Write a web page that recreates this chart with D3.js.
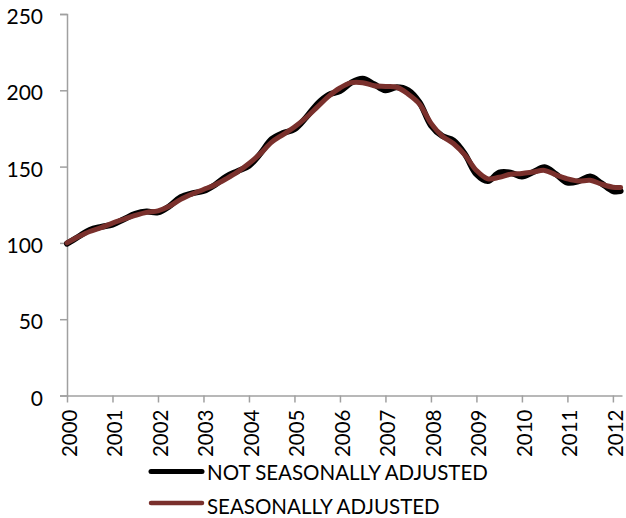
<!DOCTYPE html>
<html lang="en">
<head>
<meta charset="utf-8" />
<title>House price index</title>
<script src="https://cdnjs.cloudflare.com/ajax/libs/d3/7.8.5/d3.min.js"></script>
<style>
  body { margin: 0; background: #fff; }
  svg text { font-family: Lato, "Open Sans", sans-serif; fill: #000; }
</style>
</head>
<body>
<script>
// quarter points (decimal year), last point is March 2012
const dates = [
  2000.00, 2000.25, 2000.50, 2000.75, 2001.00, 2001.25, 2001.50, 2001.75,
  2002.00, 2002.25, 2002.50, 2002.75, 2003.00, 2003.25, 2003.50, 2003.75,
  2004.00, 2004.25, 2004.50, 2004.75, 2005.00, 2005.25, 2005.50, 2005.75,
  2006.00, 2006.25, 2006.50, 2006.75, 2007.00, 2007.25, 2007.50, 2007.75,
  2008.00, 2008.25, 2008.50, 2008.75, 2009.00, 2009.25, 2009.50, 2009.75,
  2010.00, 2010.25, 2010.50, 2010.75, 2011.00, 2011.25, 2011.50, 2011.75,
  2012.00, 2012.17
];
const notAdjusted = [
  99.5, 104, 108.5, 110.5, 112, 115.5, 119, 120.5,
  120, 124, 130, 132.5, 134, 138, 143.5, 147,
  150.5, 158.5, 168, 172, 174.5, 182, 191, 197,
  199.5, 205, 207.5, 204, 200, 202, 200, 192,
  177, 170, 167, 158, 145, 140.5, 146, 146,
  143.5, 146.5, 149.5, 145, 139.5, 140.5, 143.5, 139,
  134, 134
];
const adjusted = [
  100, 104, 107.5, 110, 113, 115.5, 118, 120,
  121, 124, 128.5, 132, 135, 138, 142, 146.5,
  152, 158.5, 166, 171, 176, 182, 189, 196,
  201.5, 205, 205, 203, 202.5, 202, 197.5, 191,
  178.5, 170, 165, 157.5, 147.5, 142, 143, 145,
  145.5, 146.5, 147.5, 144.5, 142, 140.5, 141, 138.5,
  136.5, 136.3
];
const years = d3.range(2000, 2013);
const yTicks = [0, 50, 100, 150, 200, 250];
const seriesNames = ["NOT SEASONALLY ADJUSTED", "SEASONALLY ADJUSTED"];
const seriesColors = ["#000000", "#7a302c"];

const width = 626, height = 518;
const svg = d3.select("body").append("svg")
  .attr("width", width)
  .attr("height", height);

const x = d3.scaleLinear().domain([2000, 2012.2]).range([67, 622]);
const y = d3.scaleLinear().domain([0, 250]).range([395.5, 14]);

// y axis
const yAxis = svg.append("g")
  .attr("transform", "translate(67,0)")
  .call(d3.axisLeft(y).tickValues(yTicks).tickSize(7).tickPadding(0));
yAxis.selectAll("path, line").attr("stroke", "#a0a0a0").attr("stroke-width", 1.5);
yAxis.selectAll("text")
  .attr("x", -24)
  .attr("dy", 0)
  .attr("y", 9.5)
  .style("font-size", "21px");

// x axis
const xAxis = svg.append("g")
  .attr("transform", "translate(0,395.5)")
  .call(d3.axisBottom(x).tickValues(years).tickFormat(d3.format("d")).tickSize(7).tickSizeOuter(0));
xAxis.selectAll("path, line").attr("stroke", "#a0a0a0").attr("stroke-width", 1.5);
xAxis.selectAll("text")
  .attr("transform", "rotate(-90)")
  .attr("text-anchor", "end")
  .attr("x", -14)
  .attr("y", 9.5)
  .attr("dy", 0)
  .style("font-size", "20.5px");

// lines
const line = d3.line()
  .x((d, i) => x(dates[i]))
  .y(d => y(d))
  .curve(d3.curveCatmullRom.alpha(0.5));

svg.append("path")
  .datum(notAdjusted)
  .attr("d", line)
  .attr("fill", "none")
  .attr("stroke", seriesColors[0])
  .attr("stroke-width", 6)
  .attr("stroke-linejoin", "round")
  .attr("stroke-linecap", "round");

svg.append("path")
  .datum(adjusted)
  .attr("d", line)
  .attr("fill", "none")
  .attr("stroke", seriesColors[1])
  .attr("stroke-width", 5)
  .attr("stroke-linejoin", "round")
  .attr("stroke-linecap", "round");

// legend
const legend = svg.append("g");
const legendY = [471.5, 503];
seriesNames.forEach((name, i) => {
  legend.append("line")
    .attr("x1", 151).attr("x2", 202)
    .attr("y1", legendY[i]).attr("y2", legendY[i])
    .attr("stroke", seriesColors[i])
    .attr("stroke-width", i === 0 ? 5 : 4.5)
    .attr("stroke-linecap", "round");
  legend.append("text")
    .attr("x", 207)
    .attr("y", legendY[i] + 8.5 + i * 2)
    .style("font-size", "20.5px")
    .text(name);
});
</script>
</body>
</html>
